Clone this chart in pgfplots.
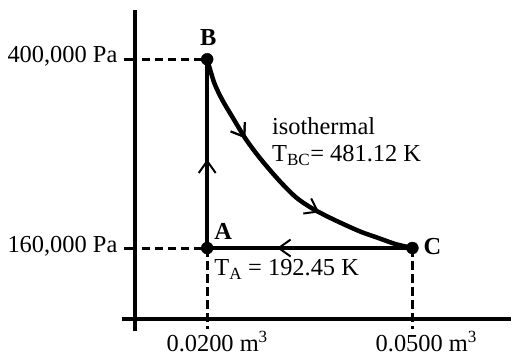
\documentclass[border=0pt]{standalone}
\usepackage{pgfplots}
\pgfplotsset{compat=1.18}
\usepackage{fontspec}
\setmainfont{Liberation Serif}
\usetikzlibrary{arrows.meta,decorations.markings}
\tikzset{
  midarrow/.style={postaction={decorate},
    decoration={markings, mark=at position #1 with {\arrow{Straight Barb[length=12pt,width=17pt,line width=2pt]}}}},
  lbl/.style={font=\fontsize{24.5}{29}\selectfont, inner sep=0pt, text=black}
}
\begin{document}
\begin{tikzpicture}
\begin{axis}[
  scale only axis, width=513pt, height=358pt,
  xmin=-0.010291, xmax=0.064417, ymin=21951, ymax=475357,
  axis lines=none, clip=false
]
\path (rel axis cs:0,0) rectangle (rel axis cs:1,1);
% coordinate axes
\addplot[line width=4pt, black] coordinates {(0.009515,462691) (0.009515,54881)};
\addplot[line width=4pt, black] coordinates {(0.007476,70079) (0.064417,70079)};
% dashed guides
\addplot[line width=3pt, black, dash pattern=on 14pt off 5pt on 8pt off 5pt on 8pt off 5pt on 8pt off 5pt on 8pt off 5pt on 8pt off 5pt] coordinates {(0.007767,400000) (0.02,400000)};
\addplot[line width=3pt, black, dash pattern=on 14pt off 5pt on 8pt off 5pt on 8pt off 5pt on 8pt off 5pt on 8pt off 5pt on 8pt off 5pt] coordinates {(0.007767,160000) (0.02,160000)};
\addplot[line width=3pt, black, dash pattern=on 9pt off 4pt] coordinates {(0.02,160000) (0.02,57414)};
\addplot[line width=3pt, black, dash pattern=on 9pt off 4pt] coordinates {(0.05,160000) (0.05,57414)};
% cycle
\addplot[line width=4.5pt, black, midarrow=0.47] coordinates {(0.02,160000) (0.02,400000)};
\addplot[line width=4.5pt, black, smooth, midarrow=0.30, postaction={decorate, decoration={markings, mark=at position 0.66 with {\arrow{Straight Barb[length=12pt,width=17pt,line width=2pt]}}}}] coordinates {
 (0.02,400000) (0.02102,370238) (0.02218,348708) (0.02364,327178) (0.02568,298049)
 (0.02786,272718) (0.03049,246122) (0.03296,224591) (0.03529,210660) (0.03777,199261)
 (0.04024,189129) (0.04257,180264) (0.04505,172665) (0.04752,165066) (0.05,160000)};
\addplot[line width=4.5pt, black, midarrow=0.66] coordinates {(0.05,160000) (0.02,160000)};
\addplot[only marks, mark=*, mark size=6pt, black] coordinates {(0.02,400000) (0.02,160000) (0.05,160000)};
% labels
\node[lbl, anchor=base east] at (axis cs:0.006893,395569) {400,000 Pa};
\node[lbl, anchor=base east] at (axis cs:0.006893,154934) {160,000 Pa};
\node[lbl, anchor=base] at (axis cs:0.020146,417100) {\textbf{B}};
\node[lbl, anchor=base west] at (axis cs:0.021019,171399) {\textbf{A}};
\node[lbl, anchor=base west] at (axis cs:0.051602,151134) {\textbf{C}};
\node[lbl, anchor=base west] at (axis cs:0.029466,304381) {isothermal};
\node[lbl, anchor=base west] at (axis cs:0.029466,270186) {T\textsubscript{BC}= 481.12 K};
\node[lbl, anchor=base west] at (axis cs:0.021019,124538) {T\textsubscript{A} = 192.45 K};
\node[lbl, anchor=base west] at (axis cs:0.014029,28284) {0.0200 m\textsuperscript{3}};
\node[lbl, anchor=base west] at (axis cs:0.044612,28284) {0.0500 m\textsuperscript{3}};
\end{axis}
\end{tikzpicture}
\end{document}
